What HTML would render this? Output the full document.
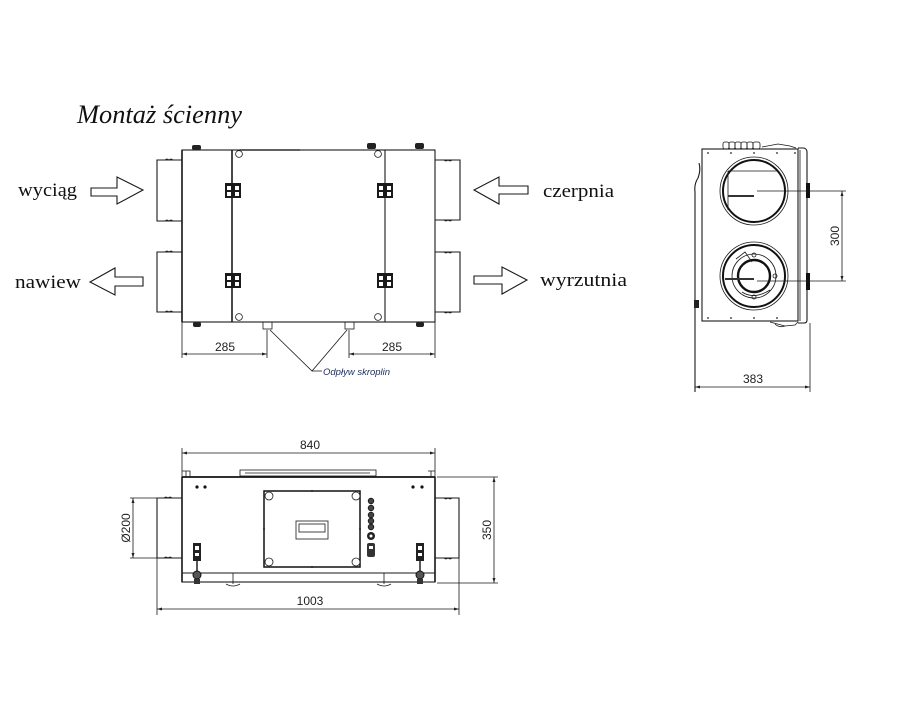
<!DOCTYPE html>
<html><head><meta charset="utf-8"><style>
html,body{margin:0;padding:0;background:#fff;}
svg{display:block;}
.l{stroke:#1a1a1a;fill:none;stroke-width:1.1}
.t{stroke:#1a1a1a;fill:none;stroke-width:1.6}
.th{stroke:#1a1a1a;fill:none;stroke-width:0.8}
.d{font-family:"Liberation Sans",sans-serif;font-size:12px;fill:#222;}
.s{font-family:"Liberation Serif",serif;font-size:19px;fill:#111;}
</style></head><body>
<svg width="907" height="718" viewBox="0 0 907 718" xmlns="http://www.w3.org/2000/svg">
<rect width="907" height="718" fill="#fff"/>
<!-- Title -->
<text x="77" y="123" font-family="Liberation Serif, serif" font-style="italic" font-size="26" fill="#111" textLength="165" lengthAdjust="spacingAndGlyphs">Montaż ścienny</text>

<!-- labels -->
<text class="s" x="18" y="196" textLength="59" lengthAdjust="spacingAndGlyphs">wyciąg</text>
<text class="s" x="15" y="288" textLength="66" lengthAdjust="spacingAndGlyphs">nawiew</text>
<text class="s" x="543" y="197" textLength="71" lengthAdjust="spacingAndGlyphs">czerpnia</text>
<text class="s" x="540" y="286" textLength="87" lengthAdjust="spacingAndGlyphs">wyrzutnia</text>

<!-- arrows -->
<polygon class="l" fill="#fff" points="91,188 117,188 117,177 143,190 117,204 117,196 91,196"/>
<polygon class="l" fill="#fff" points="143,277 115,277 115,268 90,282 115,295 115,286 143,286"/>
<polygon class="l" fill="#fff" points="528,186 499,186 499,177 474,190 499,204 499,194 528,194"/>
<polygon class="l" fill="#fff" points="474,276 502,276 502,267 527,280 502,294 502,284 474,284"/>

<!-- TOP VIEW -->
<rect class="l" x="182" y="150" width="253" height="172"/>
<line class="t" x1="182" y1="150" x2="182" y2="322"/>
<line class="t" x1="232" y1="150" x2="232" y2="322"/>
<line class="l" x1="385" y1="150" x2="385" y2="322"/>
<line x1="240" y1="150" x2="300" y2="150" stroke="#333" stroke-width="1.6"/>
<!-- ducts -->
<path class="l" d="M182,160 H157 V221 H182 M182,252 H157 V312 H182"/>
<path class="l" d="M435,160 H460 V220 H435 M435,252 H460 V312 H435"/>
<path class="th" d="M165,160 q2,-2 4,0 q2,-2 4,0 M165,221 q2,-2 4,0 q2,-2 4,0 M165,252 q2,-2 4,0 q2,-2 4,0 M165,312 q2,-2 4,0 q2,-2 4,0"/>
<path class="th" d="M444,160 q2,2 4,0 q2,2 4,0 M444,220 q2,2 4,0 q2,2 4,0 M444,252 q2,2 4,0 q2,2 4,0 M444,312 q2,2 4,0 q2,2 4,0"/>
<!-- feet -->
<rect x="192" y="145" width="9" height="5" rx="2" fill="#222"/>
<rect x="367" y="143" width="9" height="6" rx="2" fill="#222"/>
<rect x="415" y="143" width="9" height="6" rx="2" fill="#222"/>
<rect x="193" y="322" width="8" height="5" rx="2" fill="#222"/>
<rect x="416" y="322" width="8" height="5" rx="2" fill="#222"/>
<!-- circles -->
<circle class="th" cx="239" cy="154" r="3.4"/>
<circle class="th" cx="239" cy="317" r="3.4"/>
<circle class="th" cx="378" cy="154" r="3.4"/>
<circle class="th" cx="378" cy="317" r="3.4"/>
<!-- hinges -->
<g fill="#1a1a1a">
<rect x="225" y="183" width="16" height="15"/>
<rect x="225" y="273" width="16" height="15"/>
<rect x="377" y="183" width="16" height="15"/>
<rect x="377" y="273" width="16" height="15"/>
</g>
<g fill="#fff">
<rect x="227" y="186" width="4" height="4"/><rect x="235" y="186" width="4" height="4"/><rect x="227" y="192" width="4" height="4"/><rect x="235" y="192" width="4" height="4"/>
<rect x="227" y="276" width="4" height="4"/><rect x="235" y="276" width="4" height="4"/><rect x="227" y="282" width="4" height="4"/><rect x="235" y="282" width="4" height="4"/>
<rect x="379" y="186" width="4" height="4"/><rect x="387" y="186" width="4" height="4"/><rect x="379" y="192" width="4" height="4"/><rect x="387" y="192" width="4" height="4"/>
<rect x="379" y="276" width="4" height="4"/><rect x="387" y="276" width="4" height="4"/><rect x="379" y="282" width="4" height="4"/><rect x="387" y="282" width="4" height="4"/>
</g>
<!-- drain stubs -->
<rect class="th" x="263" y="322" width="9" height="7"/>
<rect class="th" x="345" y="322" width="9" height="7"/>
<path class="th" d="M270,330 L312,371 L347,330 M312,371 H322"/>
<text x="323" y="375" font-family="Liberation Sans, sans-serif" font-style="italic" font-size="9.5" fill="#1f3060">Odpływ skroplin</text>
<!-- dims 285 -->
<path class="th" d="M182,322 V358 M267,330 V358 M182,354 H267 M349,330 V358 M435,322 V358 M349,354 H435"/>
<path fill="#222" d="M182,354 l5,-1.5 v3z M267,354 l-5,-1.5 v3z M349,354 l5,-1.5 v3z M435,354 l-5,-1.5 v3z"/>
<text class="d" x="225" y="351" text-anchor="middle">285</text>
<text class="d" x="392" y="351" text-anchor="middle">285</text>

<!-- SIDE VIEW -->
<rect class="l" x="702" y="149" width="96" height="172"/>
<path class="l" d="M798,148 H804 Q807,149 807,152 V320 Q807,323 804,323 H798"/>
<path class="th" d="M800,150 V321"/>
<!-- top connectors -->
<g class="th">
<rect x="723" y="142" width="6" height="7" rx="2"/><rect x="729" y="142" width="6" height="7" rx="2"/>
<rect x="735" y="142" width="6" height="7" rx="2"/><rect x="741" y="142" width="6" height="7" rx="2"/>
<rect x="747" y="142" width="6" height="7" rx="2"/><rect x="753" y="142" width="7" height="7" rx="2"/>
<path d="M762,147 L778,144 L790,146 L796,148"/>
<path d="M770,322 L785,326 L795,325 L798,322"/>
<path d="M775,324 q4,4 10,2"/>
</g>
<g fill="#222">
<circle cx="708" cy="153" r="0.9"/><circle cx="731" cy="153" r="0.9"/><circle cx="754" cy="153" r="0.9"/><circle cx="777" cy="153" r="0.9"/><circle cx="795" cy="153" r="0.9"/>
<circle cx="708" cy="318" r="0.9"/><circle cx="731" cy="318" r="0.9"/><circle cx="754" cy="318" r="0.9"/><circle cx="777" cy="318" r="0.9"/>
</g>
<!-- left handle -->
<path class="l" d="M699,163 Q701,170 698,178 Q694,184 695,192 V392"/>
<rect x="694" y="300" width="5" height="8" fill="#222"/>
<!-- circles -->
<circle class="th" cx="754" cy="191" r="34"/>
<circle cx="754" cy="191" r="31" fill="none" stroke="#111" stroke-width="2"/>
<path class="th" d="M728,171 H777 M728,171 V210"/>
<line x1="728" y1="196" x2="754" y2="196" stroke="#333" stroke-width="2"/>
<circle class="th" cx="754" cy="276" r="34"/>
<circle cx="754" cy="276" r="31" fill="none" stroke="#111" stroke-width="2"/>
<circle class="th" cx="754" cy="276" r="22"/>
<circle cx="754" cy="276" r="16" fill="none" stroke="#111" stroke-width="2.4"/>
<path class="th" d="M736,259 L745,252 L752,262 M742,292 Q754,300 770,290"/>
<circle class="th" cx="754" cy="255" r="2"/><circle class="th" cx="754" cy="297" r="2"/><circle class="th" cx="775" cy="276" r="2"/>
<line x1="725" y1="279" x2="754" y2="279" stroke="#333" stroke-width="2"/>
<!-- black blocks -->
<rect x="806" y="183" width="4" height="15" fill="#111"/>
<rect x="806" y="273" width="4" height="17" fill="#111"/>
<!-- dim 300 -->
<path class="th" d="M757,191 H846 M757,281 H846 M842,191 V281"/>
<path fill="#222" d="M842,191 l-1.5,5 h3z M842,281 l-1.5,-5 h3z"/>
<text class="d" transform="translate(839,236) rotate(-90)" text-anchor="middle">300</text>
<!-- dim 383 -->
<path class="th" d="M810,323 V392 M695,387 H810"/>
<path fill="#222" d="M695,387 l5,-1.5 v3z M810,387 l-5,-1.5 v3z"/>
<text class="d" x="753" y="383" text-anchor="middle">383</text>

<!-- BOTTOM VIEW -->
<path class="th" d="M182,448 V477 M435,448 V477 M182,453 H435"/>
<path fill="#222" d="M182,453 l5,-1.5 v3z M435,453 l-5,-1.5 v3z"/>
<text class="d" x="310" y="449" text-anchor="middle">840</text>
<rect class="th" x="240" y="470" width="136" height="6"/>
<path class="th" d="M245,473 H370"/>
<path class="th" d="M182,471 H190 V477 M428,471 H435 M186,471 V477 M431,471 V477"/>
<line x1="182" y1="477" x2="435" y2="477" stroke="#111" stroke-width="1.8"/>
<rect class="l" x="182" y="477" width="253" height="105"/>
<line class="t" x1="182" y1="477" x2="182" y2="582"/>
<line class="l" x1="182" y1="573" x2="435" y2="573"/>
<line class="t" x1="435" y1="477" x2="435" y2="582"/>
<!-- ducts -->
<path class="l" d="M182,498 H157 V558 H182 M435,498 H459 V558 H435"/>
<path class="th" d="M164,498 q2,-2 4,0 q2,-2 4,0 M164,558 q2,-2 4,0 q2,-2 4,0 M444,498 q2,2 4,0 q2,2 4,0 M444,558 q2,2 4,0 q2,2 4,0"/>
<!-- dots -->
<g fill="#111"><circle cx="197" cy="487" r="1.6"/><circle cx="205" cy="487" r="1.6"/><circle cx="413" cy="487" r="1.6"/><circle cx="422" cy="487" r="1.6"/></g>
<!-- control panel -->
<rect x="264" y="491" width="96" height="76" fill="none" stroke="#111" stroke-width="1.5"/>
<g class="th" fill="#fff">
<circle cx="269" cy="496" r="4" fill="#fff"/><circle cx="356" cy="496" r="4" fill="#fff"/>
<circle cx="269" cy="562" r="4" fill="#fff"/><circle cx="356" cy="562" r="4" fill="#fff"/>
</g>
<g fill="#222"><circle cx="312" cy="491" r="1"/><circle cx="312" cy="567" r="1"/><circle cx="264" cy="529" r="1"/><circle cx="360" cy="529" r="1"/></g>
<rect class="th" x="296" y="521" width="32" height="18"/>
<rect class="th" x="299" y="524" width="26" height="8"/>
<!-- knobs -->
<g fill="#444" stroke="#111" stroke-width="0.8">
<circle cx="371" cy="501" r="2.8"/><circle cx="371" cy="508" r="2.8"/><circle cx="371" cy="515" r="2.8"/>
<circle cx="371" cy="521" r="2.8"/><circle cx="371" cy="527" r="2.8"/>
</g>
<circle cx="371" cy="536" r="4" fill="#222"/><circle cx="371" cy="536" r="1.5" fill="#fff"/>
<rect x="367" y="543" width="8" height="14" rx="2" fill="#333"/>
<rect x="369" y="546" width="4" height="3" fill="#fff"/>
<!-- latches -->
<g>
<rect x="193" y="543" width="8" height="18" fill="#222"/>
<rect x="195" y="546" width="4" height="4" fill="#fff"/><rect x="195" y="553" width="4" height="3" fill="#fff"/>
<line x1="197" y1="561" x2="197" y2="572" stroke="#222" stroke-width="1.5"/>
<circle cx="197" cy="575" r="4" fill="#555" stroke="#111"/>
<rect x="194" y="579" width="6" height="5" fill="#333"/>
<rect x="416" y="543" width="8" height="18" fill="#222"/>
<rect x="418" y="546" width="4" height="4" fill="#fff"/><rect x="418" y="553" width="4" height="3" fill="#fff"/>
<line x1="420" y1="561" x2="420" y2="572" stroke="#222" stroke-width="1.5"/>
<circle cx="420" cy="575" r="4" fill="#555" stroke="#111"/>
<rect x="417" y="579" width="6" height="5" fill="#333"/>
</g>
<!-- feet -->
<path class="th" d="M233,573 V584 M226,584 q7,4 14,0 M384,573 V584 M377,584 q7,4 14,0"/>
<!-- dim 350 -->
<path class="th" d="M437,477 H498 M437,583 H498 M494,477 V583"/>
<path fill="#222" d="M494,477 l-1.5,5 h3z M494,583 l-1.5,-5 h3z"/>
<text class="d" transform="translate(491,530) rotate(-90)" text-anchor="middle">350</text>
<!-- dim Ø200 -->
<path class="th" d="M130,498 H157 M130,558 H157 M133,498 V558"/>
<path fill="#222" d="M133,498 l-1.5,5 h3z M133,558 l-1.5,-5 h3z"/>
<text class="d" transform="translate(130,528) rotate(-90)" text-anchor="middle">Ø200</text>
<!-- dim 1003 -->
<path class="th" d="M157,558 V615 M459,558 V615 M157,609 H459"/>
<path fill="#222" d="M157,609 l5,-1.5 v3z M459,609 l-5,-1.5 v3z"/>
<text class="d" x="310" y="605" text-anchor="middle">1003</text>
</svg>
</body></html>
